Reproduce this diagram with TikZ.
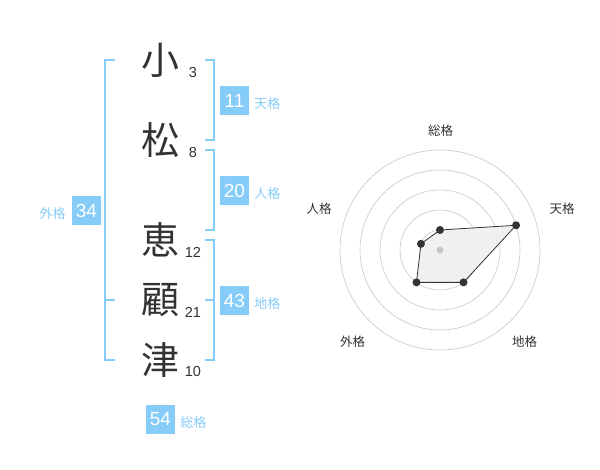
\documentclass[tikz,border=0pt]{standalone}
\usepackage{fontspec}
\setmainfont{Liberation Sans}
\newfontfamily\jfont{Noto Sans CJK JP}
\usetikzlibrary{calc}
\definecolor{kakublue}{RGB}{133,204,249}
\definecolor{sumi}{RGB}{51,51,51}
\tikzset{
kanji node/.style={inner sep=0pt,text=sumi,font=\jfont\fontsize{38}{38}\selectfont},
stroke node/.style={inner sep=0pt,text=sumi,font=\fontsize{14.5}{14.5}\selectfont},
box node/.style={fill=kakublue,text=white,minimum size=29pt,inner sep=0pt,font=\fontsize{19}{19}\selectfont},
kaku node/.style={inner sep=0pt,text=kakublue,yshift=-3pt,font=\jfont\fontsize{13}{13}\selectfont},
bracket/.style={draw=kakublue,line width=2pt},
ring/.style={draw=black!22,line width=0.6pt},
radar label/.style={inner sep=0pt,text=sumi,font=\jfont\fontsize{12.5}{12.5}\selectfont},
radar dot/.style={circle,fill=sumi,inner sep=0pt,minimum size=8pt}}

\begin{document}
\begin{tikzpicture}[x=1pt,y=-1pt]
\useasboundingbox (0,0) rectangle (600,470);

% name
\node[kanji node] (k1) at (160,60) {小};
\node[kanji node] (k2) at (160,140) {松};
\node[kanji node] (k3) at (160,240) {恵};
\node[kanji node] (k4) at (160,300) {顧};
\node[kanji node] (k5) at (160,360) {津};

\node[stroke node] (n1) at (193,72.5) {3};
\node[stroke node] (n2) at (193,152.5) {8};
\node[stroke node] (n3) at (193,252) {12};
\node[stroke node] (n4) at (193,312) {21};
\node[stroke node] (n5) at (193,372) {10};

% brackets
\draw[bracket] (205,60) -- (214,60) -- (214,140) -- (205,140);
\draw[bracket] (205,150) -- (214,150) -- (214,230) -- (205,230);
\draw[bracket] (205,240) -- (214,240) -- (214,360) -- (205,360);
\draw[bracket] (205,300) -- (214,300);
\draw[bracket] (115,60) -- (105,60) -- (105,360) -- (115,360);
\draw[bracket] (105,300) -- (115,300);

% kaku
\node[box node] (ten) at (234.5,100.5) {11};
\node[kaku node,right=5pt] (tenl) at (ten.east) {天格};
\node[box node] (jin) at (234.5,190.5) {20};
\node[kaku node,right=5pt] (jinl) at (jin.east) {人格};
\node[box node] (chi) at (234.5,300.5) {43};
\node[kaku node,right=5pt] (chil) at (chi.east) {地格};
\node[box node] (gai) at (86.5,210.5) {34};
\node[kaku node,left=6pt] (gail) at (gai.west) {外格};
\node[box node] (sou) at (160.5,419.5) {54};
\node[kaku node,right=5pt] (soul) at (sou.east) {総格};

% radar
\coordinate (c) at (440,250);
\foreach \r in {20,40,60,80,100}
  \draw[ring] (c) circle (\r);

\coordinate (rsou) at ($(c)+(-90:20)$);
\coordinate (rten) at ($(c)+(-18:80)$);
\coordinate (rchi) at ($(c)+(54:40)$);
\coordinate (rgai) at ($(c)+(126:40)$);
\coordinate (rjin) at ($(c)+(198:20)$);

\filldraw[fill=black!6,draw=sumi,line width=0.8pt]
  (rsou) -- (rten) -- (rchi) -- (rgai) -- (rjin) -- cycle;
\fill[black!22] (c) circle (3.5);

\node[radar dot] at (rsou) {};
\node[radar dot] at (rten) {};
\node[radar dot] at (rchi) {};
\node[radar dot] at (rgai) {};
\node[radar dot] at (rjin) {};

\node[radar label] (lsou) at (440.5,130.5) {総格};
\node[radar label] (lten) at (562,208.5) {天格};
\node[radar label] (lchi) at (524.5,342) {地格};
\node[radar label] (lgai) at (352.5,342) {外格};
\node[radar label] (ljin) at (319,208.5) {人格};

\end{tikzpicture}
\end{document}
